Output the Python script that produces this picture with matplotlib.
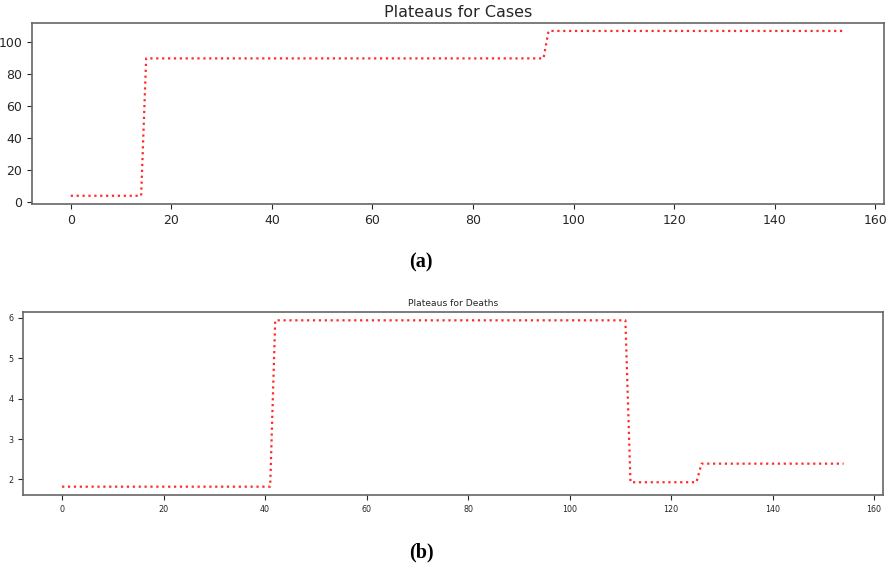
import matplotlib
matplotlib.use("Agg")
import matplotlib.pyplot as plt

# Plateau breakpoints (day index, level)
cases_days = [0, 14, 15, 94, 95, 154]
cases_vals = [3.75, 3.75, 89.8, 89.8, 107.0, 107.0]

deaths_days = [0, 41, 42, 111, 112, 125, 126, 154]
deaths_vals = [1.82, 1.82, 5.94, 5.94, 1.93, 1.93, 2.39, 2.39]

cases_xticks = [0, 20, 40, 60, 80, 100, 120, 140, 160]
cases_yticks = [0, 20, 40, 60, 80, 100]
deaths_yticks = [2, 3, 4, 5, 6]

W, H = 889, 567
fig = plt.figure(figsize=(W / 100, H / 100), dpi=100)

spine_col = "#666666"
text_col = "#262626"

def style(ax, fs):
    for s in ax.spines.values():
        s.set_color(spine_col)
        s.set_linewidth(1.2)
    ax.tick_params(colors=text_col, labelsize=fs, length=3.5, width=0.8)
    for t in ax.get_xticklabels() + ax.get_yticklabels():
        t.set_color(text_col)

ax1 = fig.add_axes([32 / W, 1 - 204 / H, (884 - 32) / W, (204 - 22.7) / H])
ax1.plot(cases_days, cases_vals, color="#ff2a2a", linestyle=":", linewidth=1.6)
ax1.set_xticks(cases_xticks)
ax1.set_yticks(cases_yticks)
ax1.set_title("Plateaus for Cases", fontsize=11.5, color=text_col, pad=4)
style(ax1, 9)

ax2 = fig.add_axes([23 / W, 1 - 495 / H, (882.7 - 23) / W, (495 - 312) / H])
ax2.plot(deaths_days, deaths_vals, color="#ff2a2a", linestyle=":", linewidth=1.6)
ax2.set_xticks(cases_xticks)
ax2.set_yticks(deaths_yticks)
ax2.set_title("Plateaus for Deaths", fontsize=6.6, color=text_col, pad=4)
style(ax2, 5.8)

fig.text(421 / W, 1 - 262 / H, "(a)", ha="center", va="center",
         fontsize=14.5, fontweight="bold", family=["Liberation Serif", "DejaVu Serif"])
fig.text(421 / W, 1 - 552 / H, "(b)", ha="center", va="center",
         fontsize=14.5, fontweight="bold", family=["Liberation Serif", "DejaVu Serif"])

fig.savefig("out.png", dpi=100)
